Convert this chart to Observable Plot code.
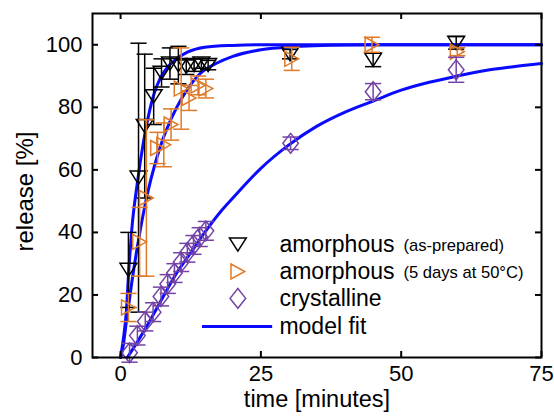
<!DOCTYPE html>
<html><head><meta charset="utf-8">
<script src="https://cdn.jsdelivr.net/npm/d3@7"></script>
<script src="https://cdn.jsdelivr.net/npm/@observablehq/plot@0.6"></script>
<style>html,body{margin:0;padding:0;background:#fff}</style>
</head><body><div id="chart"></div>
<script>
// ---- data ----
const amT = [1.4, 3.2, 4.3, 5.9, 7.3, 8.8, 10.3, 11.7, 13.1, 14.4, 15.6, 30.2, 45, 59.8];
const amV = [28, 57.5, 74, 83.5, 91, 94, 93.5, 93, 93.5, 94, 93.5, 97, 95.2, 100.6];
const amE = [12, 43, 23, 9, 4.5, 5, 6, 2.5, 2, 1.5, 1.5, 1.5, 2.2, 2];

const agT = [1.4, 3.4, 4.6, 6.6, 7.7, 9.0, 10.8, 12.2, 13.8, 15.2, 30.5, 44.8, 60];
const agV = [16, 37, 51, 67, 68, 74.5, 86, 83, 87, 86, 95.5, 100, 97.8];
const agE = [4.5, 11, 25, 5, 7, 5, 13, 4, 3, 3, 3.7, 2.4, 1.3];

const crT = [1.6, 3.0, 4.4, 5.8, 7.2, 8.4, 9.6, 10.8, 11.9, 13.0, 14.1, 15.2, 30.3, 45, 59.8];
const crV = [1.5, 7, 11.5, 14.5, 19.5, 23.5, 27, 30.5, 33.5, 36, 38.5, 40.5, 68.5, 85, 92];
const crE = [3, 3, 3, 3, 3, 3, 3, 3, 3, 3, 3, 3, 2, 2.6, 4];

const fitAT = [0, 0.5, 1, 1.5, 2, 3, 4, 5, 6, 7, 8, 10, 12, 15, 20, 25, 35, 50, 75];
const fitAV = [0, 6, 14, 29, 41, 56, 68, 77.5, 84.5, 89, 92, 95.5, 97.7, 99.2, 99.8, 100, 100, 100, 100];
const fitBT = [0, 0.5, 1, 2, 3, 4, 5, 6, 7, 8, 10, 12, 14, 17, 20, 25, 30, 40, 50, 75];
const fitBV = [0, 4, 11, 24, 35.5, 45.5, 54, 61, 67, 72, 80, 86, 90.5, 94, 96.3, 98.4, 99.3, 99.9, 100, 100];
const fitCT = [1.2, 3, 5, 7, 10, 12.5, 15, 18, 20, 25, 30, 35, 40, 45, 50, 55, 60, 65, 70, 75];
const fitCV = [0, 5, 11, 17.5, 27, 33.5, 40, 47, 51, 60.5, 68, 74, 78.5, 82, 85.5, 88, 90, 91.8, 93, 94];

const xTicks = [0, 25, 50, 75];
const yTicks = [0, 20, 40, 60, 80, 100];
const legendLabels = ["amorphous", "amorphous", "crystalline", "model fit"];
const legendSubs = ["(as-prepared)", "(5 days at 50°C)"];

// ---- layout / style ----
const W = 554, H = 418, ML = 92, MR = 13, MT = 13, MB = 61;
const FW = W - ML - MR, FH = H - MT - MB, TK = 6;
const BLACK = "#000", ORANGE = "#e07a28", PURPLE = "#7443a6", BLUE = "#0a0aff";
const FONT = "'Liberation Sans', Arial, Helvetica, sans-serif";

const zip = (t, v, e) => t.map((x, i) => ({t: x, v: v[i], e: e ? e[i] : 0}));
const am = zip(amT, amV, amE), ag = zip(agT, agV, agE), cr = zip(crT, crV, crE);
const fitA = zip(fitAT, fitAV), fitB = zip(fitBT, fitBV), fitC = zip(fitCT, fitCV);

const rOf = s => Math.sqrt(s / Math.PI);
const triDown = {draw(c, s) { const r = rOf(s); c.moveTo(-1.4*r, -1.1*r); c.lineTo(1.4*r, -1.1*r); c.lineTo(0, 1.1*r); c.closePath(); }};
const triRight = {draw(c, s) { const r = rOf(s); c.moveTo(-1.15*r, -1.25*r); c.lineTo(1.15*r, 0); c.lineTo(-1.15*r, 1.25*r); c.closePath(); }};
const diamond = {draw(c, s) { const r = rOf(s); c.moveTo(0, -1.65*r); c.lineTo(1.3*r, 0); c.lineTo(0, 1.65*r); c.lineTo(-1.3*r, 0); c.closePath(); }};
const hcap = {draw(c, s) { const r = rOf(s); c.moveTo(-1.35*r, 0); c.lineTo(1.35*r, 0); }};

function series(data, color, sym) {
  return [
    Plot.ruleX(data, {x: "t", y1: d => d.v - d.e, y2: d => d.v + d.e, stroke: color, strokeWidth: 1.5}),
    Plot.dot(data, {x: "t", y: d => d.v + d.e, symbol: hcap, r: 6, stroke: color, fill: "none", strokeWidth: 1.5}),
    Plot.dot(data, {x: "t", y: d => d.v - d.e, symbol: hcap, r: 6, stroke: color, fill: "none", strokeWidth: 1.5}),
    Plot.dot(data, {x: "t", y: "v", symbol: sym, r: 6, stroke: color, fill: "none", strokeWidth: 1.5})
  ];
}

// legend placement (data units of the axes)
const LX = {sym: 20.9, text: 28.3, sub: 50.4, l1: 14.6, l2: 27.1};
const LY = [36.1, 27.5, 18.9, 9.9];

const chart = Plot.plot({
  width: W, height: H,
  marginLeft: ML, marginRight: MR, marginTop: MT, marginBottom: MB,
  x: {domain: [-5, 75]},
  y: {domain: [0, 110]},
  style: {fontFamily: FONT, fontSize: "22px", background: "#fff", color: "#000"},
  marks: [
    Plot.line(fitA, {x: "t", y: "v", stroke: BLUE, strokeWidth: 3, curve: "monotone-x"}),
    Plot.line(fitB, {x: "t", y: "v", stroke: BLUE, strokeWidth: 3, curve: "monotone-x"}),
    Plot.line(fitC, {x: "t", y: "v", stroke: BLUE, strokeWidth: 3, curve: "monotone-x"}),
    ...series(am, BLACK, triDown),
    ...series(ag, ORANGE, triRight),
    ...series(cr, PURPLE, diamond),
    // legend
    Plot.dot([0], {x: LX.sym, y: LY[0], symbol: triDown, r: 6, stroke: BLACK, fill: "none", strokeWidth: 1.5}),
    Plot.dot([0], {x: LX.sym, y: LY[1], symbol: triRight, r: 6, stroke: ORANGE, fill: "none", strokeWidth: 1.5}),
    Plot.dot([0], {x: LX.sym, y: LY[2], symbol: diamond, r: 6, stroke: PURPLE, fill: "none", strokeWidth: 1.5}),
    Plot.ruleY([LY[3]], {x1: LX.l1, x2: LX.l2, stroke: BLUE, strokeWidth: 3}),
    Plot.text(legendLabels, {x: LX.text, y: (d, i) => LY[i], text: d => d, textAnchor: "start", fontSize: 23, fill: "#000"}),
    Plot.text(legendSubs, {x: LX.sub, y: (d, i) => LY[i] - 0.3, text: d => d, textAnchor: "start", fontSize: 16.6, fill: "#000"}),
    // frame and inward ticks
    Plot.frame({stroke: "#000", strokeWidth: 2}),
    Plot.tickY(yTicks, {y: d => d, insetRight: FW - TK, stroke: "#000", strokeWidth: 2}),
    Plot.tickY(yTicks, {y: d => d, insetLeft: FW - TK, stroke: "#000", strokeWidth: 2}),
    Plot.tickX(xTicks, {x: d => d, insetTop: FH - TK, stroke: "#000", strokeWidth: 2}),
    Plot.tickX(xTicks, {x: d => d, insetBottom: FH - TK, stroke: "#000", strokeWidth: 2}),
    Plot.axisY({ticks: yTicks, tickSize: 0, tickPadding: 10, label: null, fontSize: 22}),
    Plot.axisX({ticks: xTicks, tickSize: 0, tickPadding: 8, label: null, fontSize: 22}),
    Plot.text(["release [%]"], {frameAnchor: "left", dx: -67, dy: 6, rotate: -90, textAnchor: "middle", lineAnchor: "middle", text: d => d, fontSize: 24, fill: "#000"}),
    Plot.text(["time [minutes]"], {frameAnchor: "bottom", dy: 42, textAnchor: "middle", lineAnchor: "middle", text: d => d, fontSize: 23.5, fill: "#000"})
  ]
});
document.getElementById("chart").append(chart);
</script></body></html>
